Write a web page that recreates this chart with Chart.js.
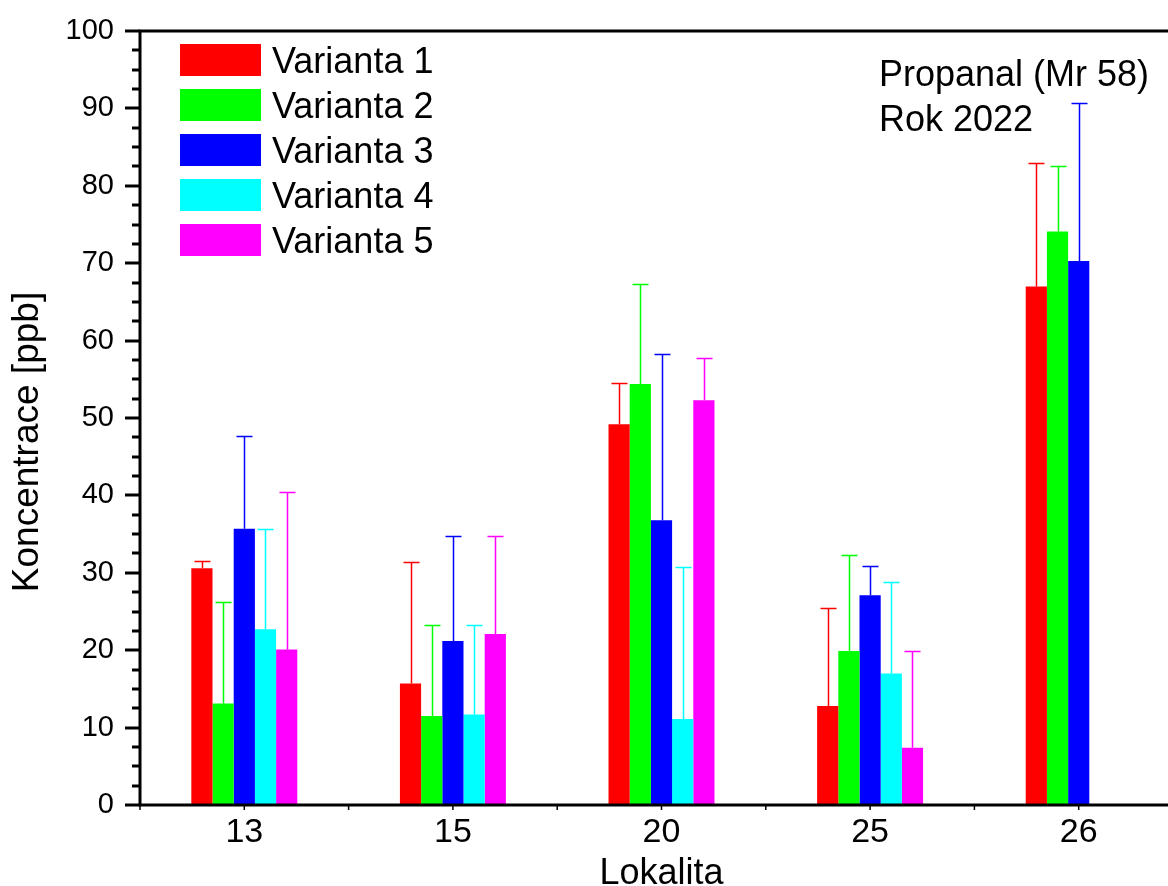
<!DOCTYPE html>
<html lang="cs">
  <head>
    <meta charset="UTF-8" />
    <title>Propanal 2022</title>
    <script src="https://cdn.jsdelivr.net/npm/chart.js"></script>
    <style>
      html,
      body {
        margin: 0;
        padding: 0;
        background: #fff;
        overflow: hidden;
        font-family: "Liberation Sans", Arial, sans-serif;
      }
      #wrap {
        width: 1200px;
        height: 886px;
      }
    </style>
  </head>
  <body>
    <div id="wrap"><canvas id="chart" width="1200" height="886"></canvas></div>
  </body>
  <script>
    const lokality = ["13", "15", "20", "25", "26"];

    const varianta1 = [30.6, 15.7, 49.2, 12.8, 67.0];
    const varianta2 = [13.1, 11.5, 54.4, 19.9, 74.1];
    const varianta3 = [35.7, 21.2, 36.8, 27.1, 70.3];
    const varianta4 = [22.7, 11.7, 11.1, 17.0, null];
    const varianta5 = [20.1, 22.1, 52.3, 7.4, null];

    // smerodatne odchylky (jen horni polovina se kresli)
    const chyba1 = [0.9, 15.7, 5.3, 12.7, 16.0];
    const chyba2 = [13.1, 11.7, 12.9, 12.4, 8.5];
    const chyba3 = [12.0, 13.5, 21.5, 3.8, 20.4];
    const chyba4 = [12.9, 11.5, 19.6, 11.8, null];
    const chyba5 = [20.4, 12.7, 5.4, 12.5, null];

    const yTicks = { min: 0, max: 100, major: 10, minor: 2.5 };

    const FONT = '"Liberation Sans", Arial, sans-serif';

    const colors = ["#ff0000", "#00ff00", "#0000ff", "#00ffff", "#ff00ff"];
    const series = [varianta1, varianta2, varianta3, varianta4, varianta5];
    const errors = [chyba1, chyba2, chyba3, chyba4, chyba5];

    const datasets = series.map((data, i) => ({
      label: `Varianta ${i + 1}`,
      data: data,
      backgroundColor: colors[i],
      borderWidth: 0,
      errors: errors[i],
      categoryPercentage: 0.508,
      barPercentage: 1.0,
    }));

    const errorBars = {
      id: "errorBars",
      afterDatasetsDraw(chart) {
        const ctx = chart.ctx;
        const y = chart.scales.y;
        ctx.save();
        chart.data.datasets.forEach((ds, di) => {
          const meta = chart.getDatasetMeta(di);
          meta.data.forEach((bar, i) => {
            const v = ds.data[i];
            const e = ds.errors[i];
            if (v == null || e == null) return;
            const top = Math.round(y.getPixelForValue(v + e)) + 0.5;
            const x = Math.round(bar.x) + 0.5;
            ctx.strokeStyle = ds.backgroundColor;
            ctx.lineWidth = 1.5;
            ctx.beginPath();
            ctx.moveTo(x, bar.y);
            ctx.lineTo(x, top);
            ctx.moveTo(x - 8, top);
            ctx.lineTo(x + 8, top);
            ctx.stroke();
          });
        });
        ctx.restore();
      },
    };

    const frame = {
      id: "frame",
      afterDraw(chart) {
        const ctx = chart.ctx;
        const a = chart.chartArea;
        const y = chart.scales.y;
        const x = chart.scales.x;
        ctx.save();
        ctx.strokeStyle = "#000";
        ctx.lineWidth = 3;
        ctx.strokeRect(a.left, a.top, a.right - a.left, a.bottom - a.top);

        // y ticks: major 15px, minor 8px, outward
        for (let v = yTicks.min; v <= yTicks.max + 0.001; v += yTicks.minor) {
          const py = Math.round(y.getPixelForValue(v));
          const major = Math.abs(v % yTicks.major) < 0.001;
          ctx.lineWidth = 3;
          ctx.beginPath();
          ctx.moveTo(a.left, py);
          ctx.lineTo(a.left - (major ? 15 : 8), py);
          ctx.stroke();
        }

        // small x ticks at centers and boundaries
        ctx.lineWidth = 1.5;
        const n = chart.data.labels.length;
        for (let i = 0; i < n; i++) {
          const c = x.getPixelForValue(i);
          const half = (x.getPixelForValue(1) - x.getPixelForValue(0)) / 2;
          [c - half, c].forEach((px) => {
            ctx.beginPath();
            ctx.moveTo(px, a.bottom);
            ctx.lineTo(px, a.bottom + 5);
            ctx.stroke();
          });
        }

        // axis titles
        ctx.fillStyle = "#000";
        ctx.font = `37px ${FONT}`;
        ctx.textAlign = "center";
        ctx.textBaseline = "alphabetic";
        ctx.save();
        ctx.translate(38, 442);
        ctx.rotate(-Math.PI / 2);
        ctx.fillText("Koncentrace [ppb]", 0, 0);
        ctx.restore();
        ctx.font = `36px ${FONT}`;
        ctx.fillText("Lokalita", (a.left + a.right) / 2, 884);

        // legend
        ctx.textAlign = "left";
        chart.data.datasets.forEach((ds, i) => {
          ctx.fillStyle = ds.backgroundColor;
          ctx.fillRect(180, 44 + 45 * i, 81, 32);
          ctx.fillStyle = "#000";
          ctx.fillText(ds.label, 272, 73 + 45 * i);
        });

        // annotation
        ctx.fillText("Propanal (Mr 58)", 879, 86);
        ctx.fillText("Rok 2022", 879, 131);
        ctx.restore();
      },
    };

    new Chart(document.getElementById("chart"), {
      type: "bar",
      data: { labels: lokality, datasets: datasets },
      options: {
        responsive: false,
        devicePixelRatio: 1,
        animation: false,
        layout: { padding: { top: 31, right: 17, left: 0, bottom: 0 } },
        plugins: { legend: { display: false }, tooltip: { enabled: false } },
        scales: {
          x: {
            grid: { display: false, drawTicks: false },
            border: { display: false },
            ticks: {
              color: "#000",
              font: { family: FONT, size: 34 },
              padding: 7,
            },
            afterFit(scale) {
              scale.height = 81;
              scale.paddingLeft = 0;
              scale.paddingRight = 0;
            },
          },
          y: {
            min: yTicks.min,
            max: yTicks.max,
            grid: { display: false, drawTicks: false },
            border: { display: false },
            ticks: {
              stepSize: yTicks.minor,
              autoSkip: false,
              color: "#000",
              font: { family: FONT, size: 29 },
              padding: 26,
              callback: (v) => (v % yTicks.major === 0 ? v : ""),
            },
            afterFit(scale) {
              scale.width = 140;
              scale.paddingTop = 0;
              scale.paddingBottom = 0;
            },
          },
        },
      },
      plugins: [errorBars, frame],
    });
  </script>
</html>
